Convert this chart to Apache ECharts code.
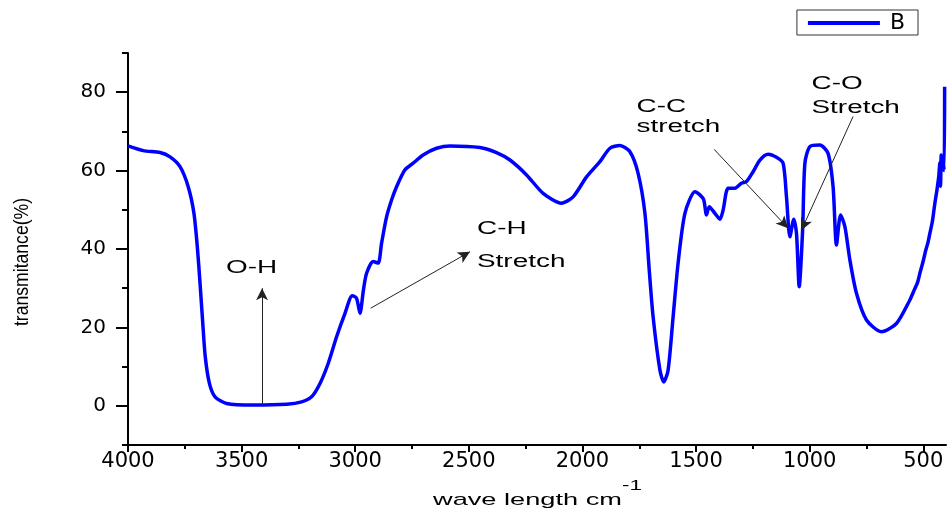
<!DOCTYPE html>
<html>
<head>
<meta charset="utf-8">
<script src="https://cdn.jsdelivr.net/npm/echarts@6/dist/echarts.min.js"></script>
<style>
  html, body { margin: 0; padding: 0; background: #fff; }
  #chart { width: 948px; height: 512px; }
</style>
</head>
<body>
<div id="chart"></div>
<script>
// IR spectrum, values
const waveNumbers = [
  4000, 3933, 3859, 3815, 3771, 3735, 3710, 3695, 3683, 3671, 3660, 3642, 3617, 3566,
  3449, 3302, 3236, 3192, 3155, 3119, 3082, 3045, 3013, 2994, 2979, 2964, 2950, 2921,
  2899, 2884, 2862, 2840, 2818, 2781, 2745, 2701, 2642, 2583, 2451, 2378, 2319, 2246,
  2173, 2092, 2041, 1982, 1923, 1879, 1835, 1791, 1755, 1725, 1706, 1689, 1659, 1642,
  1623, 1601, 1579, 1549, 1505, 1483, 1466, 1454, 1442, 1417, 1395, 1381, 1359, 1329,
  1300, 1278, 1249, 1219, 1183, 1146, 1117, 1102, 1087, 1070, 1058, 1046, 1031, 1021,
  999, 955, 919, 897, 882, 864, 845, 823, 794, 750, 684, 618, 559, 540, 525, 515,
  500, 490, 480, 471, 460, 449, 440, 432, 427, 424, 421, 417, 413, 408, 406
];
const transmittance = [
  66.3, 65.1, 64.6, 63.5, 61.0, 55.9, 49.2, 40.6, 31.3, 21.1, 12.5, 5.8, 2.3, 0.6,
  0.2, 0.4, 1.0, 2.3, 5.7, 10.8, 17.6, 23.6, 28.1, 27.4, 23.6, 29.5, 33.8, 36.8,
  36.4, 41.5, 48.2, 52.5, 55.9, 60.2, 61.9, 64.0, 65.7, 66.3, 65.9, 64.6, 62.7, 58.9,
  54.2, 51.7, 53.3, 58.4, 62.3, 65.7, 66.4, 64.8, 59.3, 49.1, 34.6, 22.7, 9.1, 6.1,
  9.1, 22.7, 36.4, 49.1, 54.6, 53.8, 52.5, 48.7, 50.8, 49.1, 47.6, 49.9, 55.5, 55.5,
  56.8, 57.2, 59.7, 62.7, 64.2, 63.4, 61.9, 53.3, 43.1, 47.6, 44.0, 30.4, 44.8, 61.9,
  66.1, 66.5, 64.4, 55.9, 41.0, 48.7, 45.7, 37.2, 28.7, 21.9, 18.9, 21.0, 27.0, 29.5, 31.5, 33.8,
  37.0, 39.5, 41.5, 44.0, 47.0, 51.7, 55.0, 58.5, 62.0, 56.0, 64.0, 61.0, 62.5, 60.0, 81.4
];

const xMajorTicks = [4000, 3500, 3000, 2500, 2000, 1500, 1000, 500];
const xMinorTicks = [3750, 3250, 2750, 2250, 1750, 1250, 750];
const yMajorTicks = [0, 20, 40, 60, 80];
const yMinorTicks = [-10, 10, 30, 50, 70, 90];

// band annotations (data units)
const bandLabels = [
  { text: 'O-H', at: [3569, 35.2] },
  { text: 'C-H', at: [2464, 45.1] },
  { text: 'Stretch', at: [2464, 36.8] },
  { text: 'C-C', at: [1762, 76.2] },
  { text: 'stretch', at: [1762, 71.0] },
  { text: 'C-O', at: [992, 82.1] },
  { text: 'Stretch', at: [992, 75.9] }
];
const bandArrows = [
  { from: [3410, 0.3], to: [3410, 30] },
  { from: [2932, 24.9], to: [2495, 39.3] },
  { from: [1420, 65.4], to: [1095, 45.3] },
  { from: [809, 73.8], to: [1036, 44.8] }
];

const chart = echarts.init(document.getElementById('chart'))

const labelFont = 'DejaVu Sans'
const axisCommon = {
  type: 'value',
  axisLine: { show: true, onZero: false, lineStyle: { color: '#000', width: 2 } },
  splitLine: { show: false }
}

const option = {
  animation: false,
  backgroundColor: '#fff',
  grid: { left: 128, right: 2, top: 53, bottom: 67 },
  legend: {
    data: ['B'],
    right: 30,
    top: 10,
    icon: 'rect',
    itemWidth: 72,
    itemHeight: 4,
    padding: [2, 13, 1, 11],
    borderColor: '#333',
    borderWidth: 1,
    textStyle: { fontSize: 22, fontFamily: labelFont, color: '#000', padding: [0, 0, 0, 5] }
  },
  xAxis: [
    Object.assign({}, axisCommon, {
      position: 'bottom',
      inverse: true,
      min: 400,
      max: 4000,
      axisTick: { show: true, length: 7, customValues: xMajorTicks, lineStyle: { color: '#000', width: 2 } },
      axisLabel: {
        customValues: xMajorTicks,
        formatter: v => String(v),
        margin: 6,
        fontSize: 21,
        fontFamily: labelFont,
        color: '#000'
      }
    }),
    Object.assign({}, axisCommon, {
      position: 'bottom',
      inverse: true,
      min: 400,
      max: 4000,
      axisLine: { show: false, onZero: false },
      axisTick: { show: true, length: 4, customValues: xMinorTicks, lineStyle: { color: '#000', width: 2 } },
      axisLabel: { show: false }
    })
  ],
  yAxis: [
    Object.assign({}, axisCommon, {
      position: 'left',
      min: -10,
      max: 90,
      axisTick: { show: true, length: 12, customValues: yMajorTicks, lineStyle: { color: '#000', width: 2 } },
      axisLabel: {
        customValues: yMajorTicks,
        formatter: v => String(v),
        margin: 22,
        fontSize: 20,
        fontFamily: labelFont,
        color: '#000'
      }
    }),
    Object.assign({}, axisCommon, {
      position: 'left',
      min: -10,
      max: 90,
      axisLine: { show: false, onZero: false },
      axisTick: { show: true, length: 6, customValues: yMinorTicks, lineStyle: { color: '#000', width: 2 } },
      axisLabel: { show: false }
    })
  ],
  series: [
    {
      name: 'B',
      type: 'line',
      xAxisIndex: 0,
      yAxisIndex: 0,
      data: waveNumbers.map((w, i) => [w, transmittance[i]]),
      symbol: 'none',
      smooth: 0.25,
      lineStyle: { color: '#0000ff', width: 3.5 },
      itemStyle: { color: '#0000ff' },
      markLine: {
        silent: true,
        symbol: ['none', 'arrow'],
        symbolSize: [9, 12],
        label: { show: false },
        lineStyle: { color: '#222', width: 1, type: 'solid' },
        data: bandArrows.map(a => [{ coord: a.from }, { coord: a.to }])
      }
    }
  ]
}

chart.setOption(option)

// annotation texts and axis titles (text is horizontally stretched in the original)
const graphics = bandLabels.map(l => {
  const p = chart.convertToPixel({ xAxisIndex: 0, yAxisIndex: 0 }, l.at)
  return {
    type: 'text',
    x: p[0],
    y: p[1],
    scaleX: 1.55,
    silent: true,
    style: {
      text: l.text,
      font: '18px "Liberation Sans"',
      fill: '#000',
      align: 'left',
      verticalAlign: 'middle'
    }
  }
})

graphics.push({
  type: 'text',
  x: 433,
  y: 500,
  scaleX: 1.6,
  silent: true,
  style: { text: 'wave length cm', font: '17px "Liberation Sans"', fill: '#000', align: 'left', verticalAlign: 'middle' }
})
graphics.push({
  type: 'text',
  x: 622,
  y: 486,
  scaleX: 1.5,
  silent: true,
  style: { text: '-1', font: '15px "Liberation Sans"', fill: '#000', align: 'left', verticalAlign: 'middle' }
})
graphics.push({
  type: 'text',
  x: 22,
  y: 262,
  rotation: Math.PI / 2,
  scaleX: 0.88,
  silent: true,
  style: { text: 'transmitance(%)', font: '20px "Liberation Sans"', fill: '#000', align: 'center', verticalAlign: 'middle' }
})

chart.setOption({ graphic: graphics })
</script>
</body>
</html>
